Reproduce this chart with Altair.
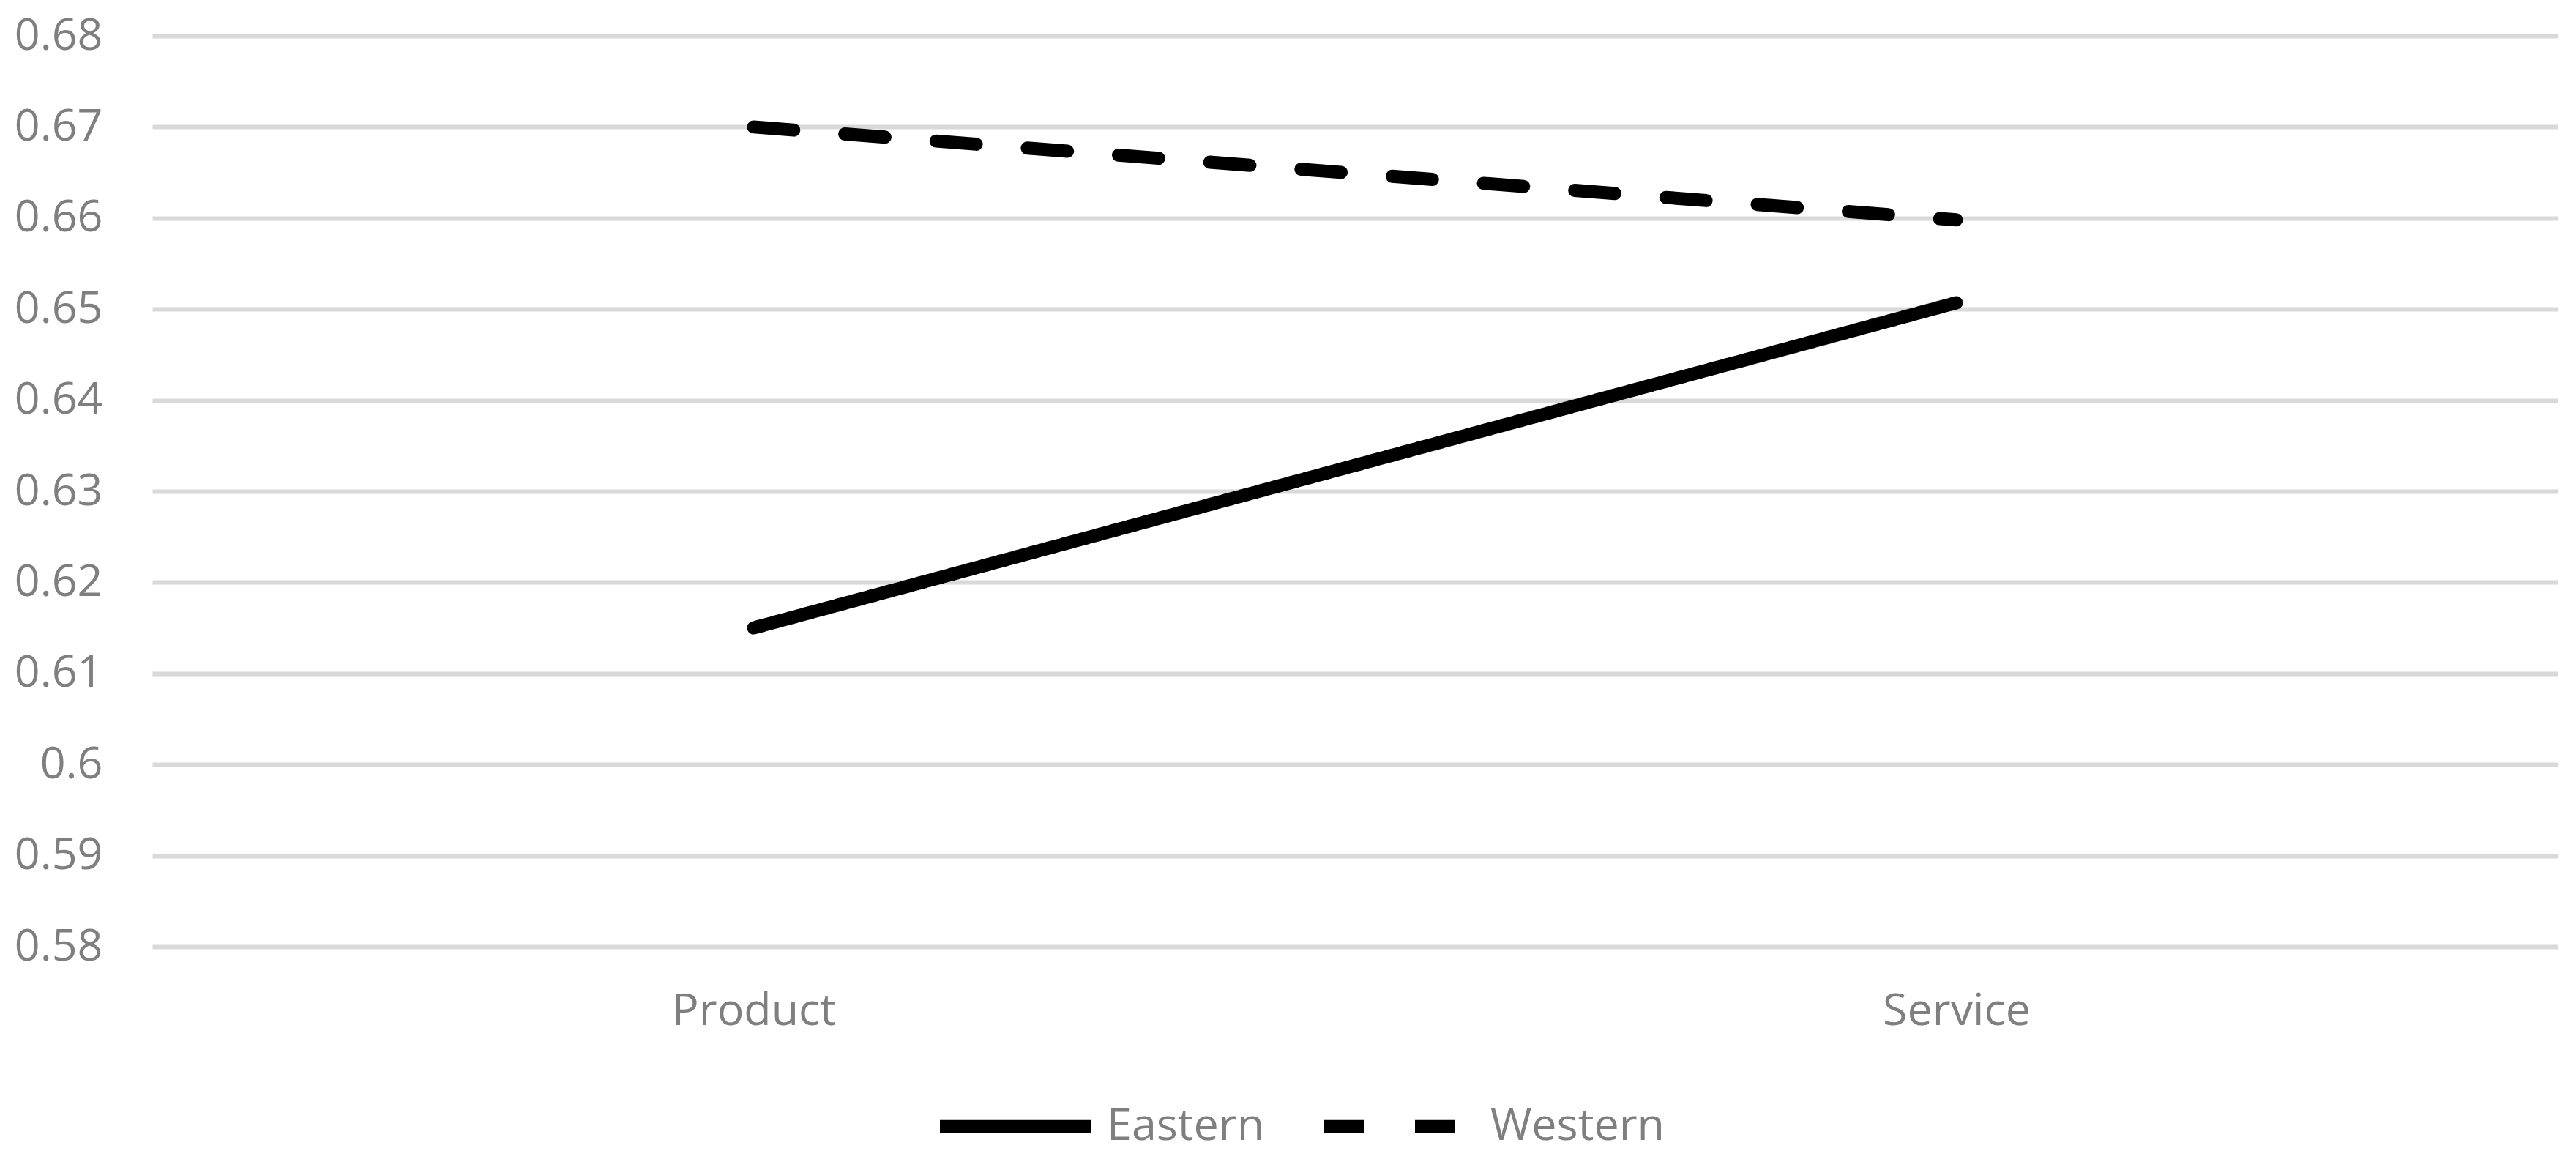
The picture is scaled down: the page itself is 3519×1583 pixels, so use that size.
import altair as alt
import pandas as pd

categories = ["Product", "Service"]
eastern = [0.615, 0.6507]
western = [0.670, 0.6598]
series_names = ["Eastern", "Western"]
y_ticks = [0.58, 0.59, 0.60, 0.61, 0.62, 0.63, 0.64, 0.65, 0.66, 0.67, 0.68]

rows = []
for name, vals in zip(series_names, [eastern, western]):
    for c, v in zip(categories, vals):
        rows.append({"category": c, "value": v, "series": name})
df = pd.DataFrame(rows)

FONT = "Open Sans"
GREY = "#7f7f7f"

chart = alt.Chart(df).mark_line(strokeWidth=18, strokeCap="round", color="black").encode(
    x=alt.X("category:N", sort=categories,
            scale=alt.Scale(type="point", padding=0.5),
            axis=alt.Axis(title=None, labelAngle=0, domain=False, ticks=False, grid=False,
                          labelLimit=0,
                          labelFont=FONT, labelFontSize=61, labelColor=GREY, labelPadding=58)),
    y=alt.Y("value:Q",
            scale=alt.Scale(domain=[0.58, 0.68], nice=False, zero=False),
            axis=alt.Axis(title=None, values=y_ticks, format=".2~f", domain=False, ticks=False,
                          grid=True, gridColor="#D9D9D9", gridWidth=6, labelLimit=0,
                          labelFont=FONT, labelFontSize=61, labelColor=GREY, labelPadding=68)),
    strokeDash=alt.StrokeDash("series:N",
                              scale=alt.Scale(domain=series_names, range=[[1, 0], [55, 70]]),
                              legend=alt.Legend(title=None, orient="none", direction="horizontal",
                                                legendX=1067, legendY=1377, padding=0,
                                                symbolType="stroke", symbolSize=42849,
                                                symbolStrokeWidth=18, symbolStrokeColor="black",
                                                labelFont=FONT, labelFontSize=61, labelColor=GREY,
                                                labelLimit=0,
                                                labelOffset=12, columnPadding=44)),
    detail="series:N",
).properties(
    width=3286,
    height=1244,
    padding={"top": 10, "left": 11, "right": 10, "bottom": 10},
).configure_view(stroke=None)

chart.save("out.html", embed_options={"renderer": "svg", "actions": False})
